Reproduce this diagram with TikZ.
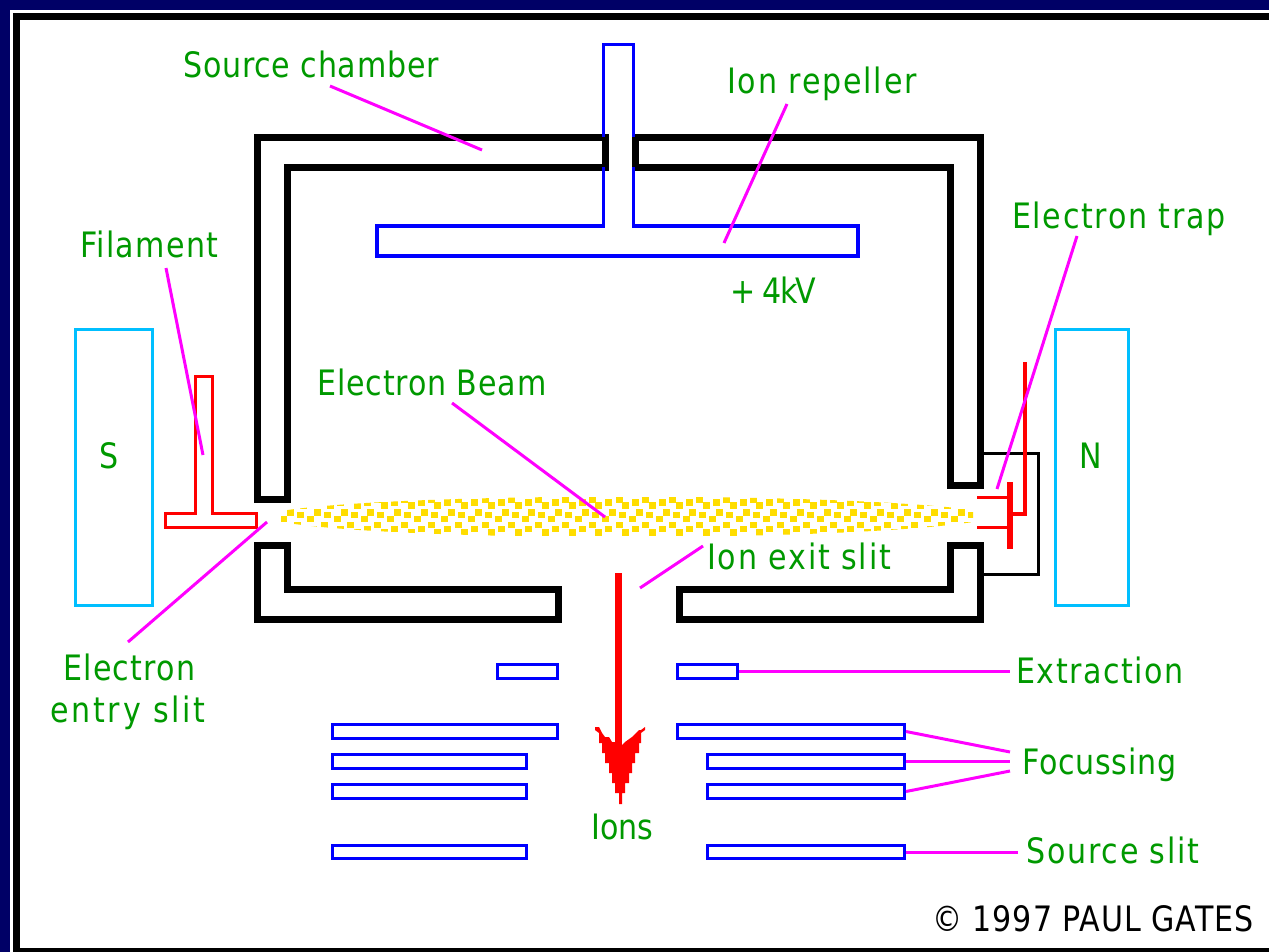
\documentclass[tikz,border=0pt]{standalone}
\usepackage{fontspec}
\newfontfamily\diagramfont[FakeStretch=0.86]{DejaVu Sans}
\newcommand{\spaced}[2]{{\addfontfeature{LetterSpace=#1}#2}}
\definecolor{framenavy}{HTML}{000066}
\definecolor{labelgreen}{HTML}{009900}
\definecolor{plateblue}{HTML}{0000FF}
\definecolor{magnetcyan}{HTML}{00BFFF}
\definecolor{leaderpink}{HTML}{FF00FF}
\definecolor{beamgold}{HTML}{FFDD00}
\tikzset{
  wall/.style={draw=black,line width=7pt},
  leader/.style={draw=leaderpink,line width=3pt},
  lbl/.style={text=labelgreen,inner sep=0pt,anchor=base west,
    font=\diagramfont\fontsize{35}{42}\selectfont},
  slitplate/.style={draw=plateblue,line width=3pt,inner sep=0pt,minimum height=14pt},
  magnet/.style={draw=magnetcyan,line width=3pt,inner sep=0pt,minimum height=276pt},
}
\begin{document}
\begin{tikzpicture}[x=1pt,y=-1pt]
  \useasboundingbox (0,0) rectangle (1269,952);
  % frame
  \fill[framenavy] (0,0) rectangle (1269,952);
  \fill[white] (10,10) rectangle (1269,952);
  \fill[black] (13,13) rectangle (1269,952);
  \fill[white] (20,20) rectangle (1269,948);

  % source chamber, four pieces
  \draw[wall] (605.5,137.5) -- (257.5,137.5) -- (257.5,499) -- (287.5,499) -- (287.5,167.5) -- (605.5,167.5) -- cycle;
  \draw[wall] (635.5,137.5) -- (980,137.5) -- (980,485.5) -- (950,485.5) -- (950,167.5) -- (635.5,167.5) -- cycle;
  \draw[wall] (257.5,545.5) -- (287.5,545.5) -- (287.5,589.5) -- (558.5,589.5) -- (558.5,619.5) -- (257.5,619.5) -- cycle;
  \draw[wall] (950,545.5) -- (980,545.5) -- (980,619.5) -- (679.5,619.5) -- (679.5,589.5) -- (950,589.5) -- cycle;

  % ion repeller
  \draw[plateblue,line width=3.5pt] (603.5,44.5) -- (633.5,44.5) -- (633.5,226) -- (858,226) -- (858,256) -- (377,256) -- (377,226) -- (603.5,226) -- cycle;
  % redraw the wall ends over the stem
  \draw[wall] (605.5,137.5) -- (605.5,167.5);
  \draw[wall] (635.5,137.5) -- (635.5,167.5);

  % magnets
  \node[magnet,minimum width=76.5pt] (magnetS) at (113.75,467) {};
  \node[magnet,minimum width=72.5pt] (magnetN) at (1091.75,467) {};

  % filament
  \draw[red,line width=3pt] (195.5,376.5) -- (212.5,376.5) -- (212.5,513.5) -- (256.5,513.5) -- (256.5,527.5) -- (165.5,527.5) -- (165.5,513.5) -- (195.5,513.5) -- cycle;

  % electron trap and its loop
  \draw[black,line width=3pt] (983,453.5) -- (1038.5,453.5) -- (1038.5,574.5) -- (983,574.5);
  \draw[red,line width=6pt] (1010,482) -- (1010,549);
  \draw[red,line width=3pt] (977,497.5) -- (1007,497.5);
  \draw[red,line width=3pt] (977,527.5) -- (1007,527.5);
  \draw[red,line width=4pt] (1025,362) -- (1025,514) -- (1013,514);

  % electron beam: one tile of squares repeated, cut to a lens
  \begin{scope}
    \clip (281,511) .. controls (400,492) and (840,492) .. (973,510) -- (973,522) .. controls (840,542) and (400,542) .. (281,522) -- cycle;
    \foreach \col in {-1,...,25} {
      \foreach \dotDx/\dotY in {0/512.3, 10/515, 20/519, 6.7/525, 23.3/529, 13.3/532.3, 6.7/500, 23.3/502.3, 13.3/505.7} {
        \pgfmathsetmacro{\dotX}{290.5+26.83*\col+\dotDx}
        \fill[beamgold] (\dotX-3.5,\dotY-3.4) rectangle (\dotX+3.5,\dotY+3.4);
      }
    }
  \end{scope}

  % ion beam arrow
  \coordinate (ionTail) at (618.5,573);
  \coordinate (ionHead) at (618.5,750);
  \draw[red,line width=7pt] (ionTail) -- (ionHead);
  \fill[red] (595,727) -- (599,727) -- (602,733) -- (605,737) -- (609,737) -- (612,742) -- (615,742) -- (620,747) -- (625,742) -- (632,737) -- (639,730) -- (641,730) -- (645,727)
    -- (645,730) -- (641,733) -- (641,743) -- (639,743) -- (639,753) -- (635,753) -- (635,763) -- (632,763) -- (632,773) -- (629,773) -- (629,783) -- (625,783) -- (625,793) -- (622,793) -- (622,804)
    -- (619,804) -- (619,793) -- (615,793) -- (615,783) -- (612,783) -- (612,773) -- (609,773) -- (609,763) -- (605,763) -- (605,753) -- (602,753) -- (602,743) -- (599,743) -- (599,733) -- (595,730) -- cycle;

  % extraction, focussing and source slit plates
  \node[slitplate,minimum width=60pt] (extractL) at (527.5,671.5) {};
  \node[slitplate,minimum width=60pt] (extractR) at (707.5,671.5) {};
  \node[slitplate,minimum width=225pt] (focusAL) at (445,731.5) {};
  \node[slitplate,minimum width=227pt] (focusAR) at (791,731.5) {};
  \node[slitplate,minimum width=194pt] (focusBL) at (429.5,761.5) {};
  \node[slitplate,minimum width=197pt] (focusBR) at (806,761.5) {};
  \node[slitplate,minimum width=194pt] (focusCL) at (429.5,791.5) {};
  \node[slitplate,minimum width=197pt] (focusCR) at (806,791.5) {};
  \node[slitplate,minimum width=194pt,minimum height=13pt] (sourceL) at (429.5,852) {};
  \node[slitplate,minimum width=197pt,minimum height=13pt] (sourceR) at (806,852) {};

  % labels
  \node[lbl] (chamberLbl) at (183,78) {\spaced{2.2}{Source chamber}};
  \node[lbl] (repellerLbl) at (727,94) {\spaced{5.2}{Ion repeller}};
  \node[lbl] (voltLbl) at (730,303) {\spaced{-5.7}{+ 4kV}};
  \node[lbl] (trapLbl) at (1012,229) {\spaced{4.8}{Electron trap}};
  \node[lbl] (filamentLbl) at (80,258) {\spaced{3.7}{Filament}};
  \node[lbl] (beamLbl) at (317,395) {\spaced{2.4}{Electron Beam}};
  \node[lbl] (exitLbl) at (707,569) {\spaced{5.2}{Ion exit slit}};
  \node[lbl] (entryLbl) at (63,680) {\spaced{3.7}{Electron}};
  \node[lbl] (entryLblB) at (50,722) {\spaced{7.9}{entry slit}};
  \node[lbl] (extractLbl) at (1016,683) {\spaced{4.4}{Extraction}};
  \node[lbl] (focusLbl) at (1022,774) {\spaced{2.1}{Focussing}};
  \node[lbl] (ionsLbl) at (591,839) {Ions};
  \node[lbl] (sourceLbl) at (1026,863) {\spaced{5.1}{Source slit}};
  \node[lbl] (letterS) at (99,468) {S};
  \node[lbl] (letterN) at (1079,468) {N};
  \node[lbl,text=black] (creditLbl) at (932,931) {\spaced{2.7}{© 1997 PAUL GATES}};

  % free ends of the leaders
  \coordinate (chamberFrom) at (330,86);
  \coordinate (chamberTip) at (482,150);
  \coordinate (repellerFrom) at (787,104);
  \coordinate (repellerTip) at (724,243);
  \coordinate (trapFrom) at (1077,236);
  \coordinate (trapTip) at (997,489);
  \coordinate (filamentFrom) at (166,268);
  \coordinate (filamentTip) at (203,455);
  \coordinate (beamFrom) at (452,403);
  \coordinate (beamTip) at (605,517);
  \coordinate (entryFrom) at (128,642);
  \coordinate (entryTip) at (267,522);
  \coordinate (exitFrom) at (703,546);
  \coordinate (exitTip) at (640,588);
  \coordinate (extractTip) at (1010,671.5);
  \coordinate (focusTipA) at (1010,752);
  \coordinate (focusTipB) at (1010,761.5);
  \coordinate (focusTipC) at (1010,771);
  \coordinate (sourceTip) at (1018,852);

  % leaders
  \draw[leader] (chamberFrom) -- (chamberTip);
  \draw[leader] (repellerFrom) -- (repellerTip);
  \draw[leader] (trapFrom) -- (trapTip);
  \draw[leader] (filamentFrom) -- (filamentTip);
  \draw[leader] (beamFrom) -- (beamTip);
  \draw[leader] (entryFrom) -- (entryTip);
  \draw[leader] (exitFrom) -- (exitTip);
  \draw[leader] (extractR.east) -- (extractTip);
  \draw[leader] (focusAR.east) -- (focusTipA);
  \draw[leader] (focusBR.east) -- (focusTipB);
  \draw[leader] (focusCR.east) -- (focusTipC);
  \draw[leader] (sourceR.east) -- (sourceTip);
\end{tikzpicture}
\end{document}
